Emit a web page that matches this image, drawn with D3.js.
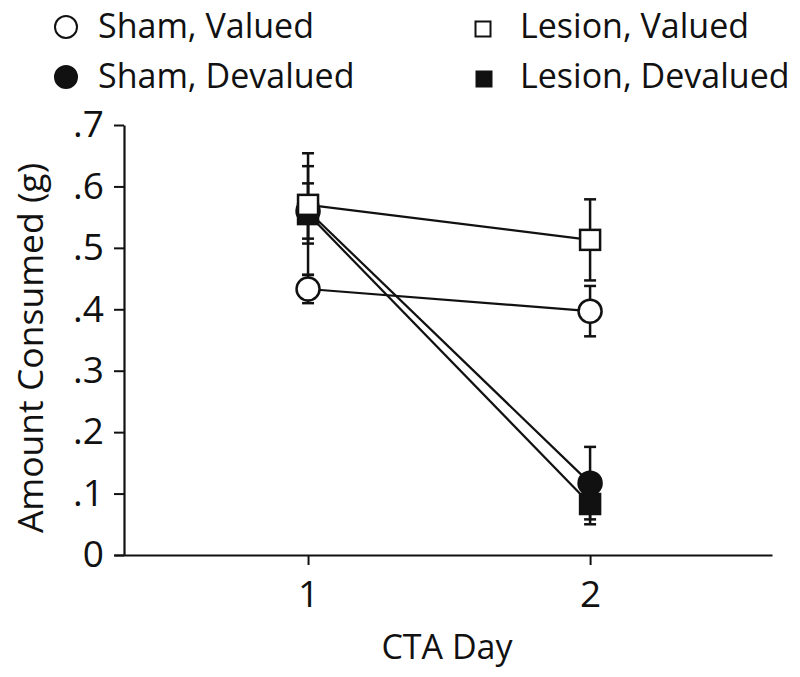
<!DOCTYPE html>
<html>
<head>
<meta charset="utf-8">
<script src="https://cdn.jsdelivr.net/npm/d3@7"></script>
<style>
  html, body { margin: 0; padding: 0; background: #fff; }
  svg { display: block; }
  text { font-family: "Open Sans", "Liberation Sans", sans-serif; fill: #111; }
</style>
</head>
<body>
<svg id="chart" width="800" height="677"></svg>
<script>
// ---- data ----
const days = [1, 2];
const yTicks = [0, 0.1, 0.2, 0.3, 0.4, 0.5, 0.6, 0.7];
const seriesNames = ["Sham, Valued", "Sham, Devalued", "Lesion, Valued", "Lesion, Devalued"];
const shamValued = [0.433, 0.397];
const shamValuedErr = [0.023, 0.041];
const shamDevalued = [0.560, 0.117];
const shamDevaluedErr = [0.045, 0.059];
const lesionValued = [0.570, 0.513];
const lesionValuedErr = [0.063, 0.066];
const lesionDevalued = [0.555, 0.083];
const lesionDevaluedErr = [0.099, 0.033];

const series = [
  { name: seriesNames[1], vals: shamDevalued, err: shamDevaluedErr, shape: "circle", fill: "#111" },
  { name: seriesNames[3], vals: lesionDevalued, err: lesionDevaluedErr, shape: "square", fill: "#111" },
  { name: seriesNames[2], vals: lesionValued, err: lesionValuedErr, shape: "square", fill: "#fff" },
  { name: seriesNames[0], vals: shamValued, err: shamValuedErr, shape: "circle", fill: "#fff" }
];

const svg = d3.select("#chart");
const x = d3.scaleLinear().domain([0.312, 2.645]).range([114, 772]);
const y = d3.scaleLinear().domain([0, 0.7]).range([555, 125]);
const yAxisX = 124;

// ---- axes ----
const xAxis = svg.append("g")
  .attr("transform", "translate(0,555)")
  .call(d3.axisBottom(x).tickValues(days).tickSize(10).tickSizeOuter(0).tickPadding(16).tickFormat(d3.format("d")));
xAxis.select(".domain").attr("stroke", "#111").attr("stroke-width", 2.2);
xAxis.selectAll(".tick line").attr("stroke", "#111").attr("stroke-width", 2);
xAxis.selectAll(".tick text").attr("font-size", 37).attr("font-family", "Open Sans").attr("fill", "#111");

const yAxis = svg.append("g")
  .attr("transform", `translate(${yAxisX},0)`)
  .call(d3.axisLeft(y).tickValues(yTicks).tickSize(10).tickSizeOuter(0).tickPadding(10)
    .tickFormat(d => d === 0 ? "0" : d3.format(".1f")(d).replace(/^0/, "")));
yAxis.select(".domain").attr("stroke", "#111").attr("stroke-width", 2.2);
yAxis.selectAll(".tick line").attr("stroke", "#111").attr("stroke-width", 2);
yAxis.selectAll(".tick text").attr("font-size", 37).attr("font-family", "Open Sans").attr("fill", "#111");

// axis titles
svg.append("text")
  .attr("x", 447).attr("y", 659)
  .attr("text-anchor", "middle")
  .attr("font-size", 34)
  .text("CTA Day");
svg.append("text")
  .attr("transform", "translate(43,348) rotate(-90)")
  .attr("text-anchor", "middle")
  .attr("font-size", 35.5)
  .text("Amount Consumed (g)");

// ---- lines ----
const line = d3.line().x((d, i) => x(days[i])).y(d => y(d));
const plot = svg.append("g");
series.forEach(s => {
  plot.append("path").datum(s.vals)
    .attr("d", line).attr("fill", "none").attr("stroke", "#111").attr("stroke-width", 2.2);
});

// ---- error bars ----
const capW = 12;
series.forEach(s => {
  s.vals.forEach((v, i) => {
    const cx = x(days[i]);
    const g = plot.append("g");
    g.append("line").attr("x1", cx).attr("x2", cx)
      .attr("y1", y(v + s.err[i])).attr("y2", y(v - s.err[i]))
      .attr("stroke", "#111").attr("stroke-width", 2.5);
    [v + s.err[i], v - s.err[i]].forEach(e => {
      g.append("line").attr("x1", cx - capW / 2).attr("x2", cx + capW / 2)
        .attr("y1", y(e)).attr("y2", y(e))
        .attr("stroke", "#111").attr("stroke-width", 2.5);
    });
  });
});

// ---- markers ----
series.forEach(s => {
  s.vals.forEach((v, i) => {
    const cx = x(days[i]), cy = y(v);
    if (s.shape === "circle") {
      plot.append("circle").attr("cx", cx).attr("cy", cy).attr("r", 11.5)
        .attr("fill", s.fill).attr("stroke", "#111").attr("stroke-width", 2.5);
    } else {
      plot.append("rect").attr("x", cx - 10).attr("y", cy - 10).attr("width", 20).attr("height", 20)
        .attr("fill", s.fill).attr("stroke", "#111").attr("stroke-width", 2.5);
    }
  });
});

// ---- legend ----
const legendItems = [
  { name: seriesNames[0], shape: "circle", fill: "#fff", mx: 66, my: 27, tx: 98, ty: 38 },
  { name: seriesNames[1], shape: "circle", fill: "#111", mx: 66, my: 77, tx: 98, ty: 88 },
  { name: seriesNames[2], shape: "square", fill: "#fff", mx: 483, my: 29, tx: 520, ty: 38 },
  { name: seriesNames[3], shape: "square", fill: "#111", mx: 484, my: 79, tx: 520, ty: 88 }
];
const leg = svg.append("g");
legendItems.forEach(d => {
  if (d.shape === "circle") {
    leg.append("circle").attr("cx", d.mx).attr("cy", d.my).attr("r", 11)
      .attr("fill", d.fill).attr("stroke", "#111").attr("stroke-width", 2);
  } else {
    leg.append("rect").attr("x", d.mx - 7.5).attr("y", d.my - 7.5).attr("width", 15).attr("height", 15)
      .attr("fill", d.fill).attr("stroke", "#111").attr("stroke-width", 2);
  }
  leg.append("text").attr("x", d.tx).attr("y", d.ty).attr("font-size", 34).text(d.name);
});
</script>
</body>
</html>
